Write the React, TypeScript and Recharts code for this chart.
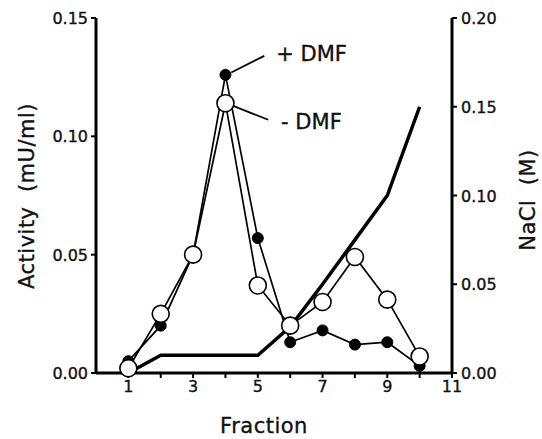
import {
  ComposedChart, Line, XAxis, YAxis, ReferenceLine, ReferenceDot, Label,
} from "recharts";

const fractions = [1, 2, 3, 4, 5, 6, 7, 8, 9, 10];
const plusDMF = [0.005, 0.02, 0.05, 0.126, 0.057, 0.013, 0.018, 0.012, 0.013, 0.003];
const minusDMF = [0.002, 0.025, 0.05, 0.114, 0.037, 0.02, 0.03, 0.049, 0.031, 0.007];
const nacl = [0, 0.01, 0.01, 0.01, 0.01, 0.026, 0.05, 0.075, 0.1, 0.15];

const xTicks = [1, 2, 3, 4, 5, 6, 7, 8, 9, 10, 11];
const leftTicks = [0, 0.05, 0.1, 0.15];
const rightTicks = [0, 0.05, 0.1, 0.15, 0.2];

const data = fractions.map((x, i) => ({ x, plus: plusDMF[i], minus: minusDMF[i], nacl: nacl[i] }));

const FONT = "'DejaVu Sans', sans-serif";
const INK = "#111";
// reference type is a touch heavier than DejaVu Book
const heavy = { stroke: INK, strokeWidth: 0.35, whiteSpace: "pre" as const };

const XTick = (props: any) => {
  const { x, y, payload } = props;
  if (payload.value % 2 === 0) return null;
  return (
    <text x={x} y={y} dy={12} textAnchor="middle" fontFamily={FONT} fontSize={16} fill={INK} style={heavy}>
      {payload.value}
    </text>
  );
};

const YTick = (props: any) => {
  const { x, y, payload, textAnchor } = props;
  return (
    <text x={x} y={y} dy={6} textAnchor={textAnchor} fontFamily={FONT} fontSize={16} fill={INK} style={heavy}>
      {payload.value.toFixed(2)}
    </text>
  );
};

const AxisTitle = ({ cx, cy, text, rotate }: { cx: number; cy: number; text: string; rotate?: boolean }) => (
  <text
    x={cx} y={cy} dy="0.36em" textAnchor="middle" fontFamily={FONT} fontSize={21}
    letterSpacing={0.5} fill={INK} style={heavy}
    transform={rotate ? `rotate(-90, ${cx}, ${cy})` : undefined}
  >
    {text}
  </text>
);

const Note = (text: string) => ({ viewBox }: any) => (
  <text x={viewBox.x} y={viewBox.y} fontFamily={FONT} fontSize={21} fill={INK} style={heavy}>{text}</text>
);

const OpenDot = (props: any) => (
  <circle cx={props.cx} cy={props.cy} r={8.5} fill="#fff" stroke="#000" strokeWidth={1.6} />
);

const App = () => (
  <div style={{ position: "absolute", left: 0, top: 0, width: 542, height: 439, background: "#fff" }}>
    <ComposedChart width={542} height={439} data={data} margin={{ top: 18, right: 0, bottom: 0, left: 0 }}>
      <XAxis
        dataKey="x" type="number" domain={[0, 11]} ticks={xTicks} interval={0}
        axisLine={{ stroke: "#000", strokeWidth: 3 }} tickLine={{ stroke: "#000", strokeWidth: 2 }}
        tickSize={5} tickMargin={2} tick={<XTick />} height={66}
      >
        <Label content={() => <AxisTitle cx={264} cy={425} text="Fraction" />} />
      </XAxis>
      <YAxis
        yAxisId="left" domain={[0, 0.15]} ticks={leftTicks} interval={0} width={96}
        axisLine={{ stroke: "#000", strokeWidth: 3 }} tickLine={{ stroke: "#000", strokeWidth: 2 }}
        tickSize={5} tickMargin={3} tick={<YTick />}
      >
        <Label content={() => <AxisTitle cx={26} cy={196} text="Activity  (mU/ml)" rotate />} />
      </YAxis>
      <YAxis
        yAxisId="right" orientation="right" domain={[0, 0.2]} ticks={rightTicks} interval={0} width={90}
        axisLine={{ stroke: "#000", strokeWidth: 3 }} tickLine={{ stroke: "#000", strokeWidth: 2 }}
        tickSize={5} tickMargin={4} tick={<YTick />}
      >
        <Label content={() => <AxisTitle cx={527} cy={200} text="NaCl  (M)" rotate />} />
      </YAxis>

      <Line yAxisId="right" dataKey="nacl" stroke="#000" strokeWidth={3.5} dot={false} isAnimationActive={false} />
      <Line
        yAxisId="left" dataKey="plus" stroke="#000" strokeWidth={1.7}
        dot={{ r: 5.5, fill: "#000", stroke: "#000", strokeWidth: 1 }} isAnimationActive={false}
      />
      <Line yAxisId="left" dataKey="minus" stroke="#000" strokeWidth={1.7} dot={<OpenDot />} isAnimationActive={false} />

      <ReferenceLine yAxisId="left" segment={[{ x: 4.18, y: 0.127 }, { x: 5.2, y: 0.134 }]} stroke="#000" strokeWidth={1.8} />
      <ReferenceLine yAxisId="left" segment={[{ x: 4.22, y: 0.113 }, { x: 5.32, y: 0.107 }]} stroke="#000" strokeWidth={1.8} />
      <ReferenceDot yAxisId="left" x={5.57} y={0.132} r={0} fill="none" stroke="none" label={{ content: Note("+ DMF") }} />
      <ReferenceDot yAxisId="left" x={5.72} y={0.103} r={0} fill="none" stroke="none" label={{ content: Note("- DMF") }} />
    </ComposedChart>
  </div>
);

export default App;
